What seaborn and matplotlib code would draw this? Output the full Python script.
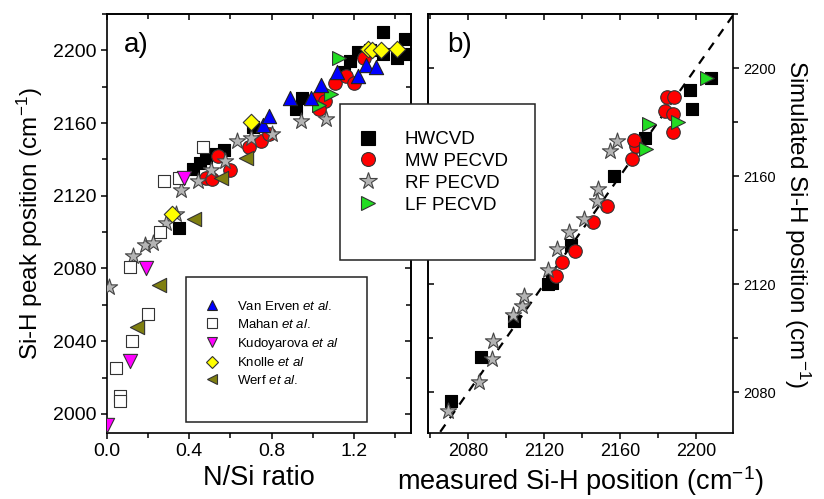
import pandas as pd
import seaborn as sns
import matplotlib
matplotlib.use('Agg')
import matplotlib.pyplot as plt
from matplotlib.lines import Line2D
from matplotlib.patches import Rectangle
from matplotlib.ticker import MultipleLocator, FormatStrFormatter

# ---- panel a) : Si-H peak position vs N/Si ratio ----
hw_a_x = [0.35, 0.42, 0.45, 0.48, 0.52, 0.57, 0.71, 0.92, 0.95, 1.15, 1.18, 1.22, 1.28, 1.34, 1.34, 1.41, 1.45, 1.45]
hw_a_y = [2102, 2135, 2138, 2141, 2143, 2145, 2158, 2168, 2174, 2188, 2194, 2199, 2200, 2210, 2198, 2196, 2206, 2198]
mw_a_x = [0.48, 0.51, 0.54, 0.60, 0.69, 0.75, 0.79, 1.03, 1.06, 1.03, 1.11, 1.16, 1.20, 1.25]
mw_a_y = [2130, 2129, 2142, 2134, 2147, 2150, 2154, 2175, 2172, 2168, 2182, 2186, 2182, 2196]
rf_a_x = [0.01, 0.128, 0.185, 0.226, 0.286, 0.335, 0.36, 0.444, 0.506, 0.576, 0.63, 0.70, 0.80, 0.945, 1.066]
rf_a_y = [2070, 2087, 2093, 2094, 2105, 2110, 2123, 2128, 2134, 2139, 2150, 2152, 2154, 2161, 2162.5]
lf_a_x = [1.03, 1.09, 1.13]
lf_a_y = [2170, 2176, 2196]
erven_x = [0.76, 0.79, 0.89, 0.99, 1.04, 1.12, 1.22, 1.26, 1.31]
erven_y = [2159, 2164, 2174, 2174, 2181, 2188, 2186, 2192, 2191]
mahan_x = [0.042, 0.062, 0.062, 0.112, 0.12, 0.20, 0.259, 0.278, 0.351, 0.465]
mahan_y = [2025, 2010, 2007, 2081, 2040, 2055, 2100, 2128, 2130, 2147]
kudo_x = [0.0, 0.111, 0.19, 0.372]
kudo_y = [1994, 2029, 2080, 2130]
knolle_x = [0.318, 0.70, 1.27, 1.29, 1.33, 1.41]
knolle_y = [2110, 2160.5, 2201, 2200, 2200, 2200.6]
werf_x = [0.148, 0.254, 0.421, 0.554, 0.676]
werf_y = [2048, 2071, 2107, 2130, 2141]

# ---- panel b) : simulated vs measured Si-H position ----
hw_b_x = [2071, 2087, 2104, 2122, 2124, 2124, 2134, 2157, 2173, 2197, 2198, 2208]
hw_b_y = [2077, 2093, 2106.5, 2120, 2120.5, 2122.5, 2134.4, 2160, 2174, 2192, 2185, 2196.3]
mw_b_x = [2126.6, 2129.5, 2136.4, 2145.8, 2153, 2166.6, 2168.4, 2167.3, 2183.7, 2188, 2184.6, 2188.4, 2187.7]
mw_b_y = [2123.2, 2128.3, 2132.2, 2143.2, 2149, 2166.3, 2171, 2173.5, 2184, 2183, 2189.3, 2189.3, 2176.2]
rf_b_x = [2069.3, 2086, 2092.6, 2093.4, 2103.6, 2108.5, 2109.4, 2122.2, 2127, 2133.4, 2141, 2147.7, 2148.5, 2154.7, 2158.7]
rf_b_y = [2073, 2084, 2092.4, 2099.2, 2108.7, 2112.1, 2115.5, 2125.4, 2133.2, 2139.4, 2144.3, 2150.7, 2155.2, 2169.5, 2173.2]
lf_b_x = [2173.6, 2175.4, 2190.7, 2205.6]
lf_b_y = [2170, 2179.4, 2180.2, 2196.3]
diag = [2040, 2240]

sns.set_theme(style='ticks')
plt.rcParams['font.family'] = ['Liberation Sans', 'DejaVu Sans']
plt.rcParams['mathtext.fontset'] = 'custom'
plt.rcParams['mathtext.rm'] = 'Liberation Sans'
plt.rcParams['mathtext.it'] = 'Liberation Sans:italic'
plt.rcParams['axes.linewidth'] = 1.2
for k in ('text.color', 'axes.labelcolor', 'axes.edgecolor', 'xtick.color', 'ytick.color'):
    plt.rcParams[k] = 'black'
NARROW = ['Liberation Sans Narrow', 'Liberation Sans']

# marker styles per group: (marker, face, edge, size)
styles = {
    'HWCVD': ('s', 'black', 'black', 85),
    'MW PECVD': ('o', '#ff0000', '#333333', 95),
    'RF PECVD': ('*', '#b4b4b4', '#444444', 150),
    'LF PECVD': ('>', '#22dd22', '#333333', 100),
    'Van Erven': ('^', '#0000ff', '#222222', 105),
    'Mahan': ('s', 'white', '#333333', 75),
    'Kudoyarova': ('v', '#ff00ff', '#333333', 105),
    'Knolle': ('D', '#ffff00', '#333333', 70),
    'Werf': ('<', '#7f7f10', '#333333', 105),
}


def scatter(ax, xs, ys, key):
    m, fc, ec, s = styles[key]
    df = pd.DataFrame({'x': xs, 'y': ys})
    sns.scatterplot(data=df, x='x', y='y', ax=ax, marker=m, color=fc,
                    edgecolor=ec, linewidth=0.8, s=s, zorder=3, legend=False)


# mirrored ticks pointing inwards on the unlabeled sides
def mirror(ax, major, minor, side_x, side_y):
    sx = ax.secondary_xaxis(side_x)
    sy = ax.secondary_yaxis(side_y)
    sx.xaxis.set_major_locator(MultipleLocator(major[0]))
    sx.xaxis.set_minor_locator(MultipleLocator(minor[0]))
    sy.yaxis.set_major_locator(MultipleLocator(major[1]))
    sy.yaxis.set_minor_locator(MultipleLocator(minor[1]))
    sx.tick_params(which='both', direction='in', labeltop=False, labelbottom=False, width=1.1)
    sy.tick_params(which='both', direction='in', labelleft=False, labelright=False, width=1.1)
    for sec in (sx, sy):
        sec.tick_params(which='major', length=4.5)
        sec.tick_params(which='minor', length=3.5)


fig = plt.figure(figsize=(8.24, 4.99), dpi=100)
ax1 = fig.add_axes([107 / 824, 1 - 433 / 499, 304 / 824, 419 / 499])
ax2 = fig.add_axes([428 / 824, 1 - 433 / 499, 305 / 824, 419 / 499])

# panel a
for xs, ys, key in [(hw_a_x, hw_a_y, 'HWCVD'), (mw_a_x, mw_a_y, 'MW PECVD'),
                    (rf_a_x, rf_a_y, 'RF PECVD'), (lf_a_x, lf_a_y, 'LF PECVD'),
                    (erven_x, erven_y, 'Van Erven'), (mahan_x, mahan_y, 'Mahan'),
                    (kudo_x, kudo_y, 'Kudoyarova'), (knolle_x, knolle_y, 'Knolle'),
                    (werf_x, werf_y, 'Werf')]:
    scatter(ax1, xs, ys, key)
ax1.set_xlim(0, 1.478)
ax1.set_ylim(1989.5, 2220)
ax1.xaxis.set_major_locator(MultipleLocator(0.4))
ax1.xaxis.set_minor_locator(MultipleLocator(0.2))
ax1.yaxis.set_major_locator(MultipleLocator(40))
ax1.yaxis.set_minor_locator(MultipleLocator(20))
ax1.xaxis.set_major_formatter(FormatStrFormatter('%.1f'))
ax1.tick_params(which='both', direction='out', width=1.1, labelsize=14,
                labelfontfamily=NARROW, pad=3)
ax1.tick_params(which='major', length=4.5)
ax1.tick_params(which='minor', length=3.5)
mirror(ax1, (0.4, 40), (0.2, 20), 'top', 'right')
ax1.set_xlabel('N/Si ratio', fontsize=19.5, family=NARROW, labelpad=3)
ax1.set_ylabel('Si-H peak position (cm$^{-1}$)', fontsize=17.5, labelpad=6)
ax1.text(0.056, 0.926, 'a)', transform=ax1.transAxes, fontsize=20, va='center', ha='left')

# panel b
ax2.plot(diag, diag, color='black', ls=(0, (4, 3.5)), lw=1.6, zorder=1)
for xs, ys, key in [(hw_b_x, hw_b_y, 'HWCVD'), (mw_b_x, mw_b_y, 'MW PECVD'),
                    (rf_b_x, rf_b_y, 'RF PECVD'), (lf_b_x, lf_b_y, 'LF PECVD')]:
    scatter(ax2, xs, ys, key)
ax2.set_xlim(2059, 2219.5)
ax2.set_ylim(2065, 2220)
for axis in (ax2.xaxis, ax2.yaxis):
    axis.set_major_locator(MultipleLocator(40))
    axis.set_minor_locator(MultipleLocator(20))
ax2.yaxis.tick_right()
ax2.yaxis.set_label_position('right')
ax2.tick_params(which='both', direction='out', width=1.1)
ax2.tick_params(axis='x', labelsize=13, labelfontfamily=NARROW, pad=3)
ax2.tick_params(axis='y', labelsize=10.5, pad=3)
ax2.tick_params(which='major', length=4.5)
ax2.tick_params(which='minor', length=3.5)
mirror(ax2, (40, 40), (20, 20), 'top', 'left')
ax2.set_xlabel('measured Si-H position (cm$^{-1}$)', fontsize=19.5, family=NARROW, labelpad=3)
ax2.set_ylabel('Simulated Si-H position (cm$^{-1}$)', fontsize=17.5, rotation=270, labelpad=26)
ax2.text(0.062, 0.926, 'b)', transform=ax2.transAxes, fontsize=20, va='center', ha='left')


def handle(key, ms):
    m, fc, ec, s = styles[key]
    return Line2D([], [], ls='none', marker=m, markerfacecolor=fc, markeredgecolor=ec,
                  markeredgewidth=0.8, markersize=ms)


# big legend (methods) spanning both panels
fig.patches.append(Rectangle((340 / 824, 1 - 260 / 499), 195 / 824, 156 / 499,
                             transform=fig.transFigure, facecolor='white',
                             edgecolor='#222222', lw=1.1, zorder=4))
big_keys = ['HWCVD', 'MW PECVD', 'RF PECVD', 'LF PECVD']
big_sizes = {'HWCVD': 9.5, 'MW PECVD': 10, 'RF PECVD': 13, 'LF PECVD': 10.5}
fig.legend([handle(k, big_sizes[k]) for k in big_keys], big_keys,
           loc='upper left', bbox_to_anchor=(359 / 824, 1 - 131 / 499),
           bbox_transform=fig.transFigure, frameon=False, fontsize=13.5,
           handlelength=1.0, handletextpad=1.45, labelspacing=0.25,
           borderpad=0, borderaxespad=0)

# small legend (literature) in panel a
fig.patches.append(Rectangle((186 / 824, 1 - 422 / 499), 181 / 824, 145 / 499,
                             transform=fig.transFigure, facecolor='white',
                             edgecolor='#222222', lw=1.1, zorder=4))
lit_keys = ['Van Erven', 'Mahan', 'Kudoyarova', 'Knolle', 'Werf']
lit_labels = [r'Van Erven $\mathit{et\ al.}$', r'Mahan $\mathit{et\ al.}$',
              r'Kudoyarova $\mathit{et\ al}$', r'Knolle $\mathit{et\ al}$',
              r'Werf $\mathit{et\ al.}$']
lit_sizes = {'Van Erven': 7.5, 'Mahan': 6.5, 'Kudoyarova': 7.5, 'Knolle': 6.5, 'Werf': 7.5}
fig.legend([handle(k, lit_sizes[k]) for k in lit_keys], lit_labels,
           loc='upper left', bbox_to_anchor=(205 / 824, 1 - 300 / 499),
           bbox_transform=fig.transFigure, frameon=False, fontsize=9.5,
           handlelength=1.0, handletextpad=1.4, labelspacing=0.36,
           borderpad=0, borderaxespad=0)

fig.savefig('out.png', dpi=100, facecolor='white')
